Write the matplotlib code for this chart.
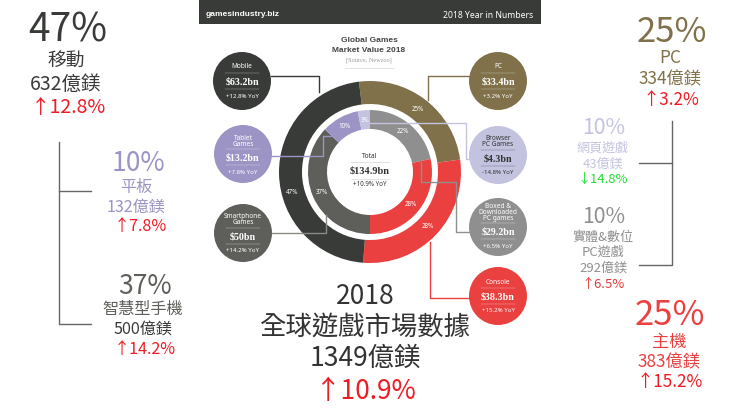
import matplotlib
matplotlib.use('Agg')
import matplotlib.pyplot as plt
from matplotlib.patches import Circle, Rectangle

plt.rcParams['font.family'] = ['Noto Sans CJK TC', 'DejaVu Sans']

W, H = 740, 416

# market values in $bn
outer_names = ['PC', 'Console', 'Mobile']
outer_values = [33.4, 38.3, 63.2]
inner_names = ['Boxed', 'Console', 'Smartphone', 'Tablet', 'Browser']
inner_values = [29.2, 38.3, 50, 13.2, 4.3]

black = '#383b38'
brown = '#80714a'
red = '#ea4040'
grey = '#8f8f8f'
dgrey = '#5e5e5a'
lav = '#9c94c4'
llav = '#c3c3e0'

outer_colors = [brown, red, black]
inner_colors = [grey, red, dgrey, lav, llav]

fig = plt.figure(figsize=(W / 100, H / 100), dpi=100)

# donuts get their own axes so the pie angles stay normal
cx, cy, R = 370, 172, 91
box = 100
ax_d = fig.add_axes([(cx - box) / W, 1 - (cy + box) / H, 2 * box / W, 2 * box / H])
ax_d.set_zorder(1)
pct_style = dict(color='white', fontsize=4.5, family='Noto Sans')
_, _, outer_pcts = ax_d.pie(outer_values, colors=outer_colors, radius=R, startangle=97,
                            counterclock=False, wedgeprops=dict(width=23), autopct='%.0f%%',
                            pctdistance=79 / 91, textprops=pct_style)
ax_d.pie(inner_values, colors=inner_colors, radius=62, startangle=90, counterclock=False,
         wedgeprops=dict(width=19), autopct='%.0f%%', pctdistance=52 / 62, textprops=pct_style)
# the 47% label sits lower on the ring than the slice middle
outer_pcts[2].set_position((-78, -21))
ax_d.set_xlim(-box, box)
ax_d.set_ylim(-box, box)
ax_d.set_aspect('equal')

ax = fig.add_axes([0, 0, 1, 1])
ax.set_zorder(2)
ax.patch.set_alpha(0)
ax.set_xlim(0, W)
ax.set_ylim(H, 0)
ax.axis('off')


def label(x, y, s, size, color, **kw):
    ax.text(x, y, s, fontsize=size, color=color, ha='center', va='center', **kw)


def cjk_label(x, y, s, size, color):
    # baseline placement, va='center' pushes this font upwards
    ax.text(x, y + 0.37 * size * 100 / 72, s, fontsize=size, color=color, ha='center', va='baseline')


# header bar
ax.add_patch(Rectangle((199, 0), 342, 24, color=black, lw=0))
ax.text(206, 15, 'gamesindustry.biz', fontsize=6, color='white', va='center', weight='bold',
        family='Liberation Sans')
ax.text(533, 15, '2018 Year in Numbers', fontsize=6.2, color='white', va='center', ha='right',
        family='Noto Sans')

# chart title
label(369, 40, 'Global Games', 6, '#444444', family='Liberation Sans', weight='bold')
label(369, 50, 'Market Value 2018', 6, '#444444', family='Liberation Sans', weight='bold')
label(369, 60, '[Source, Newzoo]', 4.5, '#999999', family='Liberation Serif')
ax.plot([345, 393], [68, 68], color='#dddddd', lw=0.6)

# connectors
ax.plot([271, 319, 319], [76, 76, 92], color=black, lw=1)
ax.plot([469, 428, 428], [76, 76, 100], color=brown, lw=1)
ax.plot([272, 323, 323, 333], [156, 156, 136, 136], color=lav, lw=1)
ax.plot([272, 326, 326], [233, 233, 215], color='#8a8a86', lw=1)
ax.plot([360, 466, 466, 470], [123, 123, 159, 159], color=llav, lw=1)
ax.plot([469, 456, 456, 421, 421], [232, 232, 182, 182, 162], color=grey, lw=1)
ax.plot([469, 430, 430], [298, 298, 242], color=red, lw=1)

# bubbles
bubbles = [
    (242, 81, black, 'white', ['Mobile'], '$63.2bn', '+12.8% YoY'),
    (243, 154, lav, 'white', ['Tablet', 'Games'], '$13.2bn', '+7.8% YoY'),
    (243, 233, dgrey, 'white', ['Smartphone', 'Games'], '$50bn', '+14.2% YoY'),
    (498, 81, brown, 'white', ['PC'], '$33.4bn', '+3.2% YoY'),
    (498, 155, llav, '#333333', ['Browser', 'PC Games'], '$4.3bn', '-14.8% YoY'),
    (498, 227, grey, 'white', ['Boxed &', 'Downloaded', 'PC games'], '$29.2bn', '+6.5% YoY'),
    (498, 296, red, 'white', ['Console'], '$38.3bn', '+15.2% YoY'),
]
title_top = {1: -14, 2: -16, 3: -21}
shift = {1: 0, 2: 3, 3: 4}
for bx, by, fc, tc, title, value, yoy in bubbles:
    ax.add_patch(Circle((bx, by), 29, color=fc, lw=0))
    n = len(title)
    for i, line in enumerate(title):
        label(bx, by + title_top[n] + i * 6, line, 4.7, tc, family='Noto Sans')
    d = shift[n]
    label(bx, by + 1 + d, value, 7.2, tc, family='Liberation Serif', weight='bold')
    label(bx, by + 15 + d, yoy, 4.4, tc, family='Noto Sans')
    ax.plot([bx - 17, bx + 17], [by - 8 + d, by - 8 + d], color=tc, lw=0.3, alpha=0.6)
    ax.plot([bx - 17, bx + 17], [by + 8 + d, by + 8 + d], color=tc, lw=0.3, alpha=0.6)

# centre of the donut
label(370, 156, 'Total', 4.8, '#333333', family='Noto Sans')
ax.plot([351, 389], [162, 162], color='#cccccc', lw=0.4)
label(370, 171, '$134.9bn', 7.5, '#333333', family='Liberation Serif', weight='bold')
ax.plot([351, 389], [179, 179], color='#cccccc', lw=0.4)
label(370, 185, '+10.9% YoY', 4.5, '#333333', family='Noto Sans')

# side blocks: x, y, text, size, colour
up = '#ee1c25'
side = [
    (68, 27, '47%', 28, black), (66, 59, '移動', 13.5, black), (66, 83, '632億鎂', 14, black),
    (68, 106, '↑12.8%', 14, up),
    (138, 161, '10%', 19, lav), (136, 186, '平板', 11.6, lav), (136, 206, '132億鎂', 11.6, lav),
    (140, 225, '↑7.8%', 11.6, up),
    (145, 284, '37%', 19, dgrey), (143, 308, '智慧型手機', 11.6, dgrey),
    (143, 328, '500億鎂', 11.6, black), (145, 348, '↑14.2%', 11.6, up),
    (672, 29, '25%', 25, brown), (670, 57, 'PC', 12.4, brown), (670, 78, '334億鎂', 12.4, brown),
    (671, 99, '↑3.2%', 12.4, up),
    (604, 126, '10%', 15.3, llav), (603, 147, '網頁遊戲', 9.4, llav), (603, 163, '43億鎂', 9.4, llav),
    (603, 178, '↓14.8%', 9.4, '#22dd33'),
    (604, 215, '10%', 15.3, grey), (603, 236, '實體&數位', 9.4, grey), (603, 251, 'PC遊戲', 9.4, grey),
    (603, 267, '292億鎂', 9.4, grey), (603, 283, '↑6.5%', 9.4, '#e33a3a'),
    (670, 312, '25%', 25, red), (669, 341, '主機', 12.4, red), (669, 361, '383億鎂', 12.4, red),
    (670, 381, '↑15.2%', 12.4, up),
]
for sx, sy, s, size, color in side:
    cjk_label(sx, sy, s, size, color)

# bracket lines
ax.plot([59, 91], [191, 191], color='#666666', lw=1)
ax.plot([59, 59, 91], [142, 324, 324], color='#666666', lw=1)
ax.plot([672, 672, 639], [121, 265, 265], color='#666666', lw=1)
ax.plot([639, 672], [163, 163], color='#666666', lw=1)

# bottom block
cjk_label(365, 294, '2018', 19, '#333333')
cjk_label(365, 325, '全球遊戲市場數據', 19, '#333333')
cjk_label(365, 356, '1349億鎂', 19, '#333333')
cjk_label(366, 389, '↑10.9%', 19, up)

plt.savefig('out.png', dpi=100)
